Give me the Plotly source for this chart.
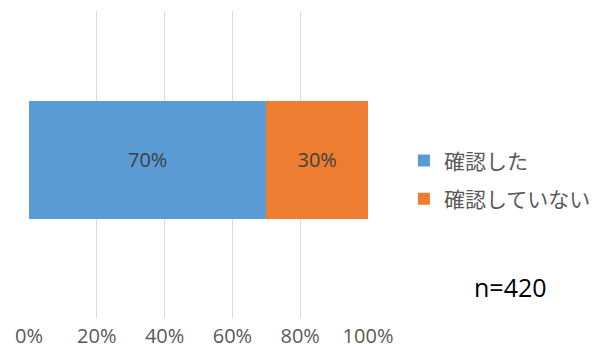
import plotly.graph_objects as go

# Survey result: share of respondents (n=420)
categories = [""]
series_names = ["確認した", "確認していない"]
series_values = [[70], [30]]
series_colors = ["#5B9BD5", "#ED7D31"]
tick_values = [0, 20, 40, 60, 80, 100]
tick_labels = ["0%", "20%", "40%", "60%", "80%", "100%"]
sample_label = "n=420"

fig = go.Figure()
for name, vals, color in zip(series_names, series_values, series_colors):
    fig.add_trace(go.Bar(
        x=vals,
        y=categories,
        name=name,
        orientation="h",
        marker=dict(color=color, line=dict(width=0)),
        width=0.385,
        text=[f"{v}%" for v in vals],
        texttemplate="%{text}",
        textposition="inside",
        insidetextanchor="middle",
        textfont=dict(size=20, color="#404040", family="Open Sans, Noto Sans CJK JP"),
        legendgroup=name,
    ))

fig.update_layout(
    barmode="stack",
    width=607,
    height=354,
    margin=dict(l=29, r=239, t=11, b=36, autoexpand=False),
    paper_bgcolor="white",
    plot_bgcolor="white",
    font=dict(family="Noto Sans CJK JP", color="#595959"),
    showlegend=True,
    legend=dict(
        x=1.106, xanchor="left",
        y=0.45, yanchor="middle",
        font=dict(size=21, color="#595959", family="Noto Sans CJK JP"),
        traceorder="grouped",
        tracegroupgap=8,
        itemwidth=30,
    ),
    xaxis=dict(
        range=[0, 100],
        tickvals=tick_values,
        ticktext=tick_labels,
        showgrid=True,
        gridcolor="#D9D9D9",
        gridwidth=1,
        zeroline=False,
        showline=False,
        ticks="",
        automargin=False,
        ticklabelstandoff=4,
        tickfont=dict(size=20, color="#595959", family="Open Sans"),
        fixedrange=True,
    ),
    yaxis=dict(
        range=[-0.515, 0.485],
        showgrid=False,
        zeroline=False,
        showticklabels=False,
        automargin=False,
        fixedrange=True,
    ),
    annotations=[dict(
        text=sample_label,
        xref="paper", yref="paper",
        x=1.42, y=0.102,
        xanchor="center", yanchor="middle",
        showarrow=False,
        font=dict(size=25, color="#000000", family="Open Sans"),
    )],
)

fig.write_html("out.html")
